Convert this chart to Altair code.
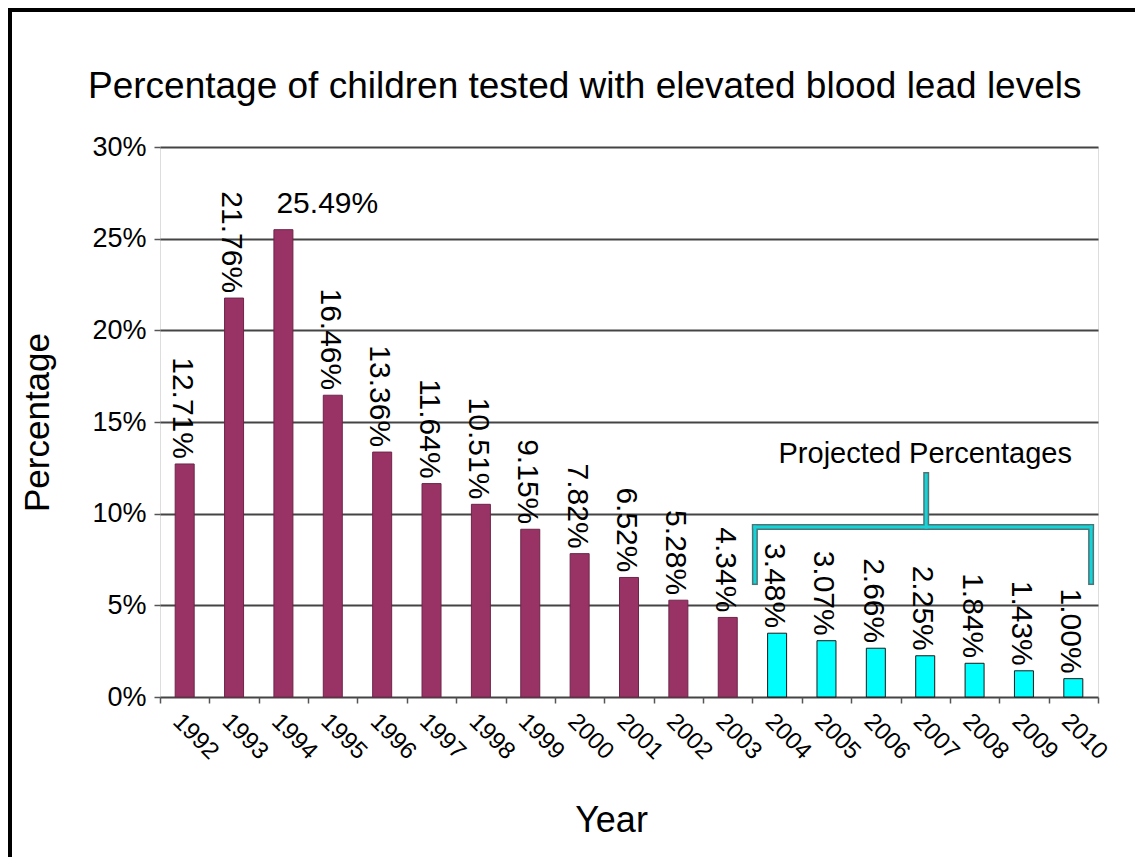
import altair as alt
import pandas as pd

# ---- data ----
years = [str(y) for y in range(1992, 2011)]
values = [12.71, 21.76, 25.49, 16.46, 13.36, 11.64, 10.51, 9.15, 7.82, 6.52,
          5.28, 4.34, 3.48, 3.07, 2.66, 2.25, 1.84, 1.43, 1.00]
kinds = ["Actual"] * 12 + ["Projected"] * 7
labels = [f"{v:.2f}%" for v in values]
y_ticks = [0, 5, 10, 15, 20, 25, 30]

# bracket for "Projected Percentages" (x in year units, y in percent)
seg_x = [2003.55, 2003.55, 2010.36, 2007.02]
seg_x2 = [2010.36, 2003.55, 2010.36, 2007.02]
seg_y = [9.27, 9.27, 9.27, 9.27]
seg_y2 = [9.27, 6.27, 6.27, 12.11]
note_text = ["Projected Percentages"]
note_x = [2007.0]
note_y = [12.76]

FONT = "Liberation Sans"

df = pd.DataFrame({"year": years, "value": values, "kind": kinds, "label": labels})
seg = pd.DataFrame({"x": seg_x, "x2": seg_x2, "y": seg_y, "y2": seg_y2})
note = pd.DataFrame({"text": note_text, "x": note_x, "y": note_y})

yscale = alt.Scale(domain=[0, 30], nice=False, zero=True)
xband = alt.Scale(domain=years, paddingInner=0, paddingOuter=0)

x_axis = alt.Axis(
    title="Year", labelAngle=45, labelAlign="left", labelBaseline="top",
    labelFontSize=24, labelFont=FONT, labelColor="black", labelPadding=6,
    tickBand="extent", tickSize=6, tickColor="#555", tickWidth=1.5,
    domain=False, grid=False,
    titleFontSize=36, titleFont=FONT, titleFontWeight="normal",
    titleColor="black", titlePadding=40, titleX=451,
)
y_axis = alt.Axis(
    title="Percentage", values=y_ticks, labelExpr="datum.value + '%'",
    labelFontSize=27, labelFont=FONT, labelColor="black", labelPadding=8,
    tickSize=6, tickColor="#555", tickWidth=1.5,
    grid=True, gridColor="#444444", gridWidth=1.8, domain=False,
    titleFontSize=35, titleFont=FONT, titleFontWeight="normal",
    titleColor="black", titlePadding=36,
)


def xe():
    return alt.X("year:N", scale=xband, sort=years, axis=x_axis)


def ye(field="value"):
    return alt.Y(f"{field}:Q", scale=yscale, axis=y_axis)


bars = alt.Chart(df).mark_bar(size=19, strokeWidth=1).encode(
    x=xe(),
    y=ye(),
    color=alt.Color("kind:N", scale=alt.Scale(domain=["Actual", "Projected"],
                                              range=["#993366", "#00FFFF"]), legend=None),
    stroke=alt.Stroke("kind:N", scale=alt.Scale(domain=["Actual", "Projected"],
                                                range=["#6e2449", "#1a1a1a"]), legend=None),
)

vlabels = alt.Chart(df).transform_filter("datum.year != '1994'").mark_text(
    angle=90, align="right", baseline="middle", dx=-5, dy=3,
    fontSize=30, font=FONT, color="black",
).encode(x=xe(), y=ye(), text="label:N")

hlabel = alt.Chart(df).transform_filter("datum.year == '1994'").mark_text(
    angle=0, align="left", baseline="alphabetic", dx=-7, dy=-17,
    fontSize=30, font=FONT, color="black",
).encode(x=xe(), y=ye(), text="label:N")

main = alt.layer(bars, vlabels, hlabel)

bx = alt.Scale(domain=[1991.5, 2010.5], nice=False, zero=False)

bracket_dark = alt.Chart(seg).mark_rule(strokeWidth=6, color="#4f7477", strokeCap="square").encode(
    x=alt.X("x:Q", scale=bx, axis=None), x2="x2:Q",
    y=ye("y"), y2="y2:Q",
)
bracket = alt.Chart(seg).mark_rule(strokeWidth=3, color="#14d4d8", strokeCap="square").encode(
    x=alt.X("x:Q", scale=bx, axis=None), x2="x2:Q",
    y=ye("y"), y2="y2:Q",
)
note_txt = alt.Chart(note).mark_text(
    align="center", baseline="alphabetic", fontSize=29, font=FONT, color="black",
).encode(
    x=alt.X("x:Q", scale=bx, axis=None),
    y=ye("y"),
    text="text:N",
)
annot = alt.layer(bracket_dark, bracket, note_txt)

# outer black frame (left and top edges, as in the reference image)
frame_left = alt.Chart(alt.Data(values=[{}])).mark_rule(color="black", strokeWidth=5).encode(
    x=alt.value(-150.5), y=alt.value(-139), y2=alt.value(715)
)
frame_top = alt.Chart(alt.Data(values=[{}])).mark_rule(color="black", strokeWidth=5).encode(
    x=alt.value(-152), x2=alt.value(990), y=alt.value(-137.5)
)

chart = alt.layer(
    main, annot, frame_left, frame_top
).resolve_scale(x="independent").properties(
    width=938, height=550,
    autosize=alt.AutoSizeParams(type="none"),
    padding={"left": 152, "top": 139, "right": 37, "bottom": 160},
    title=alt.TitleParams(
        "Percentage of children tested with elevated blood lead levels",
        font=FONT, fontSize=37, fontWeight="normal", color="black",
        anchor="start", frame="group", dx=-72, offset=-100,
    ),
).configure_view(stroke="#555", strokeWidth=1.6).configure(background="white")

chart.save("out.html", embed_options={"renderer": "svg", "actions": False})
